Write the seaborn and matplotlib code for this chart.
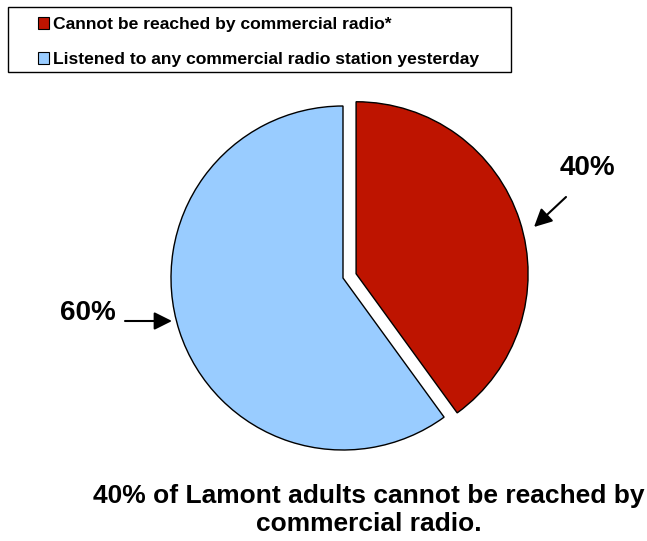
import matplotlib
matplotlib.use("Agg")
import matplotlib.pyplot as plt
import matplotlib.patches as mpatches
import seaborn as sns

labels = ["Cannot be reached by commercial radio*",
          "Listened to any commercial radio station yesterday"]
shares = [40, 60]
colors = ["#BE1400", "#99CCFF"]
pct_labels = ["40%", "60%"]
caption = "40% of Lamont adults cannot be reached by\ncommercial radio."

sns.set_theme(style="white")
plt.rcParams["font.family"] = ["Liberation Sans", "DejaVu Sans"]
plt.rcParams["text.color"] = "black"

W, H = 647, 541
fig = plt.figure(figsize=(W / 100, H / 100), dpi=100)

# overlay in pixel coordinates for text and arrows
ov = fig.add_axes([0, 0, 1, 1])
ov.set_xlim(0, W)
ov.set_ylim(H, 0)
ov.axis("off")

# pie axes placed so the unit circle sits where the reference pie is
cx, cy, r = 343, 278, 172
ax = fig.add_axes([(cx - r) / W, (H - cy - r) / H, 2 * r / W, 2 * r / H])
ax.pie(shares, colors=colors, startangle=90, counterclock=False,
       explode=[0.08, 0], wedgeprops=dict(edgecolor="black", linewidth=1))
ax.set_xlim(-1, 1)
ax.set_ylim(-1, 1)
ax.set_aspect("auto")
ax.axis("off")
for p in ax.patches:
    p.set_clip_on(False)

# legend box
ov.add_patch(mpatches.Rectangle((8, 7), 503, 65, fill=False, edgecolor="black", linewidth=1))
handles = [mpatches.Patch(facecolor=c, edgecolor="black", linewidth=0.8) for c in colors]
leg = fig.legend(handles, labels, loc="upper left", bbox_to_anchor=(38 / W, 1 - 17 / H),
                 frameon=False, prop=dict(weight="bold", size=12.6),
                 handlelength=0.63, handleheight=0.63, handletextpad=0.25,
                 labelspacing=1.15, borderpad=0, borderaxespad=0)

# percentage labels with arrows
ov.text(587, 168, pct_labels[0], ha="center", va="center", fontsize=20, fontweight="bold")
ov.annotate("", xy=(534, 227), xytext=(566, 197),
            arrowprops=dict(arrowstyle="-|>", color="black", lw=1.5, mutation_scale=27,
                            shrinkA=0, shrinkB=0))
ov.text(88, 313, pct_labels[1], ha="center", va="center", fontsize=20, fontweight="bold")
ov.annotate("", xy=(172, 321), xytext=(125, 321),
            arrowprops=dict(arrowstyle="-|>", color="black", lw=1.5, mutation_scale=27,
                            shrinkA=0, shrinkB=0))

ov.text(369, 510, caption, ha="center", va="center", fontsize=19, fontweight="bold",
        linespacing=1.25)

fig.savefig("out.png", dpi=100)
